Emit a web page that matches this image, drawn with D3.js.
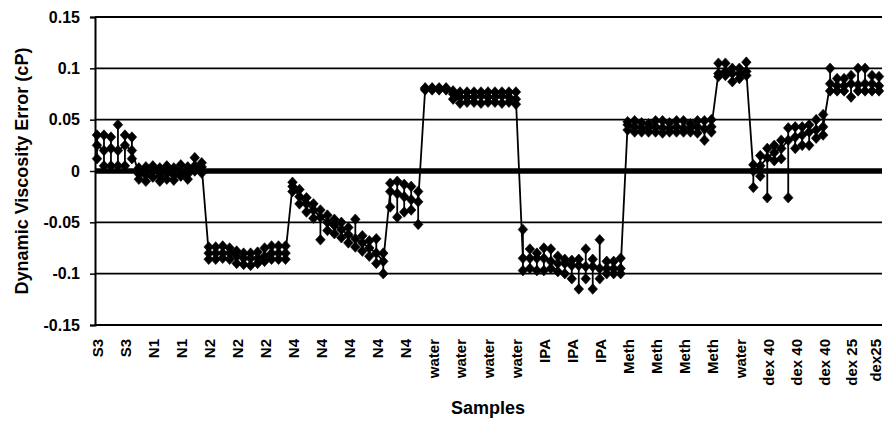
<!DOCTYPE html>
<html>
<head>
<meta charset="utf-8">
<script src="https://cdn.jsdelivr.net/npm/d3@7"></script>
<style>
  body { margin: 0; background: #fff; }
  svg { display: block; font-family: Arial, "Liberation Sans", sans-serif; }
</style>
</head>
<body>
<svg id="chart"></svg>
<script>
// category labels shown under the axis (one every 4 samples)
const sampleLabels = ["S3", "S3", "N1", "N1", "N2", "N2", "N2", "N4", "N4", "N4", "N4", "N4",
    "water", "water", "water", "water", "IPA", "IPA", "IPA", "Meth", "Meth", "Meth", "Meth",
    "water", "dex 40", "dex 40", "dex 40", "dex 25", "dex25"];

const yTicks = [0.15, 0.1, 0.05, 0, -0.05, -0.1, -0.15];

// error values (cP), per measurement
const meanValues = [
    0.025, 0.02, 0.022, 0.02, 0.025, 0.02,                                                   // S3
    -0.003, -0.004, 0, -0.005, -0.002, -0.004, 0, -0.003, 0.005, 0.004,                      // N1
    -0.08, -0.08, -0.08, -0.08, -0.083, -0.085, -0.085, -0.085, -0.083, -0.08, -0.08, -0.08, // N2
    -0.015, -0.025, -0.032, -0.038, -0.045, -0.05, -0.053, -0.057, -0.062, -0.066, -0.07, -0.075, -0.08, -0.088, // N4
    -0.02, -0.022, -0.025, -0.028, -0.03,                                                    // N4
    0.08, 0.08, 0.08, 0.08, 0.075, 0.072, 0.072, 0.072, 0.073, 0.072, 0.072, 0.073, 0.072, 0.07, // water
    -0.085, -0.085, -0.085, -0.085, -0.088, -0.09, -0.09, -0.092, -0.092, -0.093, -0.093, -0.095, -0.095, -0.095, -0.095, // IPA
    0.045, 0.043, 0.042, 0.042, 0.043, 0.042, 0.042, 0.043, 0.042, 0.042, 0.043, 0.041, 0.043, // Meth
    0.095, 0.097, 0.095, 0.095, 0.097,                                                       // water
    0, 0.005, 0.013, 0.018, 0.022, 0.03, 0.033, 0.035, 0.038, 0.04, 0.043,                   // dex 40
    0.085, 0.083, 0.083, 0.085, 0.084, 0.085, 0.085, 0.083                                   // dex 25
];

const highValues = [
    0.035, 0.035, 0.033, 0.045, 0.035, 0.033,
    0.003, 0.004, 0.005, 0.003, 0.005, 0.003, 0.006, 0.004, 0.013, 0.008,
    -0.074, -0.074, -0.073, -0.075, -0.078, -0.08, -0.08, -0.079, -0.075, -0.073, -0.073, -0.073,
    -0.011, -0.018, -0.026, -0.032, -0.038, -0.043, -0.047, -0.05, -0.055, -0.047, -0.063, -0.068, -0.066, -0.08,
    -0.012, -0.01, -0.013, -0.015, -0.02,
    0.081, 0.081, 0.081, 0.081, 0.078, 0.077, 0.077, 0.077, 0.077, 0.077, 0.077, 0.077, 0.077, 0.077,
    -0.057, -0.076, -0.08, -0.075, -0.076, -0.083, -0.086, -0.087, -0.086, -0.076, -0.086, -0.067, -0.088, -0.088, -0.085,
    0.048, 0.049, 0.047, 0.046, 0.049, 0.049, 0.047, 0.049, 0.049, 0.046, 0.049, 0.049, 0.05,
    0.105, 0.105, 0.1, 0.1, 0.106,
    0.006, 0.015, 0.022, 0.025, 0.03, 0.042, 0.043, 0.043, 0.045, 0.05, 0.055,
    0.1, 0.09, 0.09, 0.093, 0.1, 0.1, 0.093, 0.092
];

const lowValues = [
    0.012, 0.005, 0.005, 0.005, 0.005, 0.012,
    -0.008, -0.01, -0.006, -0.01, -0.008, -0.009, -0.005, -0.008, 0, -0.002,
    -0.086, -0.086, -0.085, -0.086, -0.09, -0.091, -0.092, -0.09, -0.088, -0.086, -0.086, -0.086,
    -0.02, -0.032, -0.04, -0.046, -0.067, -0.058, -0.061, -0.065, -0.07, -0.074, -0.078, -0.083, -0.09, -0.1,
    -0.035, -0.045, -0.04, -0.038, -0.052,
    0.079, 0.079, 0.079, 0.079, 0.07, 0.066, 0.067, 0.067, 0.066, 0.067, 0.067, 0.066, 0.067, 0.065,
    -0.097, -0.095, -0.097, -0.097, -0.095, -0.098, -0.1, -0.105, -0.115, -0.105, -0.115, -0.105, -0.1, -0.1, -0.1,
    0.04, 0.038, 0.038, 0.038, 0.038, 0.037, 0.038, 0.038, 0.038, 0.038, 0.037, 0.03, 0.038,
    0.092, 0.093, 0.087, 0.09, 0.093,
    -0.016, -0.005, -0.026, 0.01, 0.012, -0.026, 0.022, 0.025, 0.025, 0.032, 0.035,
    0.078, 0.078, 0.078, 0.072, 0.078, 0.078, 0.078, 0.078
];

class ErrorChart {
    constructor(_config) {
        this.config = {
            parentElement: _config.parentElement,
            containerWidth: _config.containerWidth || 886,
            containerHeight: _config.containerHeight || 421,
            margin: _config.margin || { top: 17, right: 4, bottom: 96, left: 95 },
            perLabel: 4
        };
        this.initVis();
    }

    initVis() {
        let vis = this;
        const m = vis.config.margin;

        vis.width = vis.config.containerWidth - m.left - m.right;
        vis.height = vis.config.containerHeight - m.top - m.bottom;

        vis.svg = d3.select(vis.config.parentElement)
            .attr("width", vis.config.containerWidth)
            .attr("height", vis.config.containerHeight);

        vis.chart = vis.svg.append("g")
            .attr("transform", `translate(${m.left},${m.top})`);

        vis.data = meanValues.map((v, i) => ({ i, mean: v, high: highValues[i], low: lowValues[i] }));

        vis.xScale = d3.scaleLinear()
            .domain([0, meanValues.length - 1])
            .range([2, vis.width - 3]);

        vis.yScale = d3.scaleLinear()
            .domain([-0.15, 0.15])
            .range([vis.height, 0]);

        vis.renderVis();
    }

    renderVis() {
        let vis = this;

        // horizontal gridlines
        vis.chart.selectAll(".grid")
            .data(yTicks.filter(d => d !== 0))
            .join("line")
            .attr("class", "grid")
            .attr("x1", 0)
            .attr("x2", vis.width)
            .attr("y1", d => vis.yScale(d))
            .attr("y2", d => vis.yScale(d))
            .attr("stroke", "#000")
            .attr("stroke-width", 1.8);

        // y axis, plain hyphen for negatives like the original
        const yAxis = d3.axisLeft(vis.yScale)
            .tickValues(yTicks)
            .tickSize(5)
            .tickFormat(d => String(+d.toFixed(2)));

        const yAxisG = vis.chart.append("g").call(yAxis);
        yAxisG.select(".domain").attr("stroke-width", 2);
        yAxisG.selectAll(".tick line").attr("stroke-width", 1.5);
        yAxisG.selectAll(".tick text")
            .attr("x", -15)
            .style("font-size", "16px")
            .style("font-weight", "bold")
            .style("font-family", "Arial, 'Liberation Sans', sans-serif");

        // thick zero line
        vis.chart.append("line")
            .attr("x1", 0)
            .attr("x2", vis.width)
            .attr("y1", vis.yScale(0))
            .attr("y2", vis.yScale(0))
            .attr("stroke", "#000")
            .attr("stroke-width", 5.5);

        // spread lines
        vis.chart.selectAll(".spread")
            .data(vis.data)
            .join("line")
            .attr("class", "spread")
            .attr("x1", d => vis.xScale(d.i))
            .attr("x2", d => vis.xScale(d.i))
            .attr("y1", d => vis.yScale(d.high))
            .attr("y2", d => vis.yScale(d.low))
            .attr("stroke", "#000")
            .attr("stroke-width", 1.8);

        // connecting line
        const line = d3.line()
            .x(d => vis.xScale(d.i))
            .y(d => vis.yScale(d.mean));

        vis.chart.append("path")
            .datum(vis.data)
            .attr("d", line)
            .attr("fill", "none")
            .attr("stroke", "#000")
            .attr("stroke-width", 1.8);

        // diamond markers
        const diamond = "M0,-5.3L4.8,0L0,5.3L-4.8,0Z";
        const points = vis.data.flatMap(d => [
            { i: d.i, v: d.low }, { i: d.i, v: d.high }, { i: d.i, v: d.mean }
        ]);

        vis.chart.selectAll(".marker")
            .data(points)
            .join("path")
            .attr("class", "marker")
            .attr("d", diamond)
            .attr("transform", d => `translate(${vis.xScale(d.i)},${vis.yScale(d.v)})`)
            .attr("fill", "#000")
            .attr("stroke", "#000")
            .attr("stroke-width", 0.6);

        // category labels
        const labelIdx = sampleLabels.map((s, k) => k * vis.config.perLabel);
        vis.chart.selectAll(".xlabel")
            .data(sampleLabels)
            .join("text")
            .attr("class", "xlabel")
            .attr("transform", (d, k) => {
                const x = Math.min(vis.xScale(labelIdx[k]) + 1, vis.width - 6);
                return `translate(${x},${vis.height + 14}) rotate(-90)`;
            })
            .attr("dy", "0.36em")
            .attr("text-anchor", "end")
            .style("font-size", "15px")
            .style("font-weight", "bold")
            .text(d => d);

        // axis titles
        vis.svg.append("text")
            .attr("x", 488)
            .attr("y", 414)
            .attr("text-anchor", "middle")
            .style("font-size", "18px")
            .style("font-weight", "bold")
            .text("Samples");

        vis.svg.append("text")
            .attr("transform", "translate(28,171) rotate(-90)")
            .attr("text-anchor", "middle")
            .style("font-size", "18px")
            .style("font-weight", "bold")
            .text("Dynamic Viscosity Error (cP)");
    }
}

new ErrorChart({ parentElement: "#chart" });
</script>
</body>
</html>
